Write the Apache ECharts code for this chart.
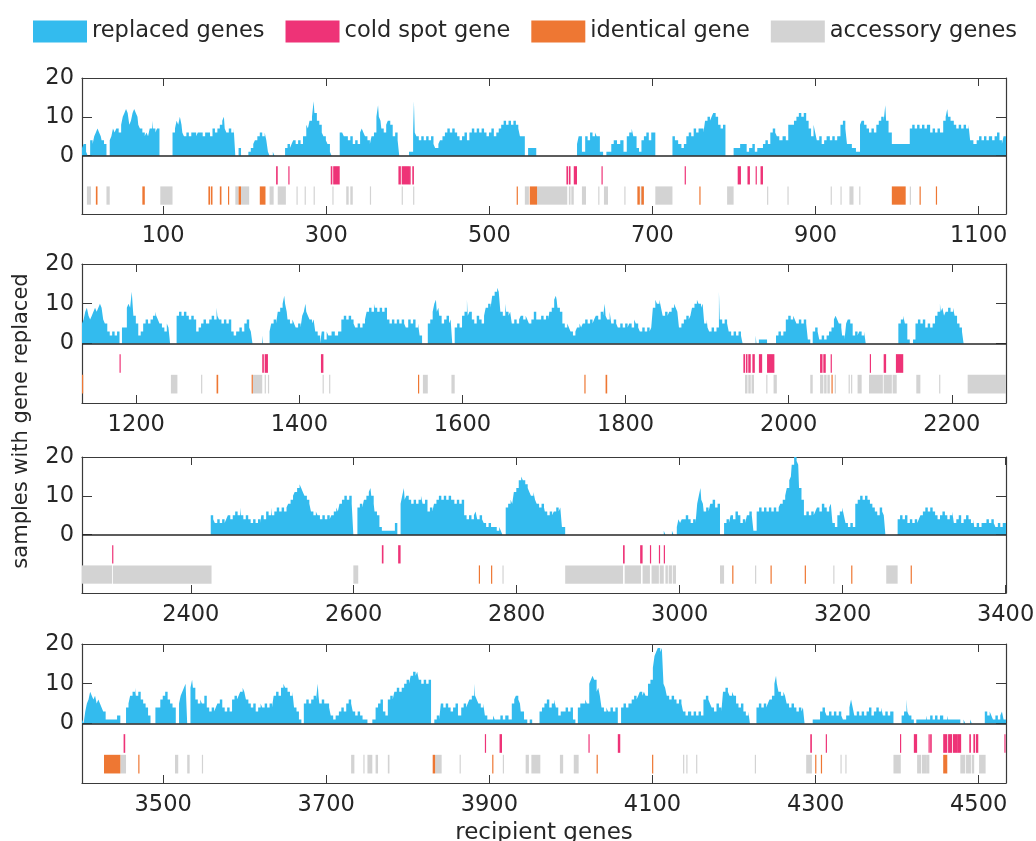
<!DOCTYPE html>
<html>
<head>
<meta charset="utf-8">
<title>Gene replacement along the recipient genome</title>
<script src="https://cdn.jsdelivr.net/npm/echarts@6/dist/echarts.min.js"></script>
<style>
  html, body { margin: 0; padding: 0; background: #ffffff; }
  #chart { width: 1036px; height: 841px; }
</style>
</head>
<body>
<div id="chart"></div>
<script>
// Replaced-gene counts as [first gene of run, samples with gene replaced]; each value holds until the next entry.
const replaced1 = [[1,2],[3,3],[6,1],[8,0],[11,4],[14,3],[16,5],[18,6],[20,7],[22,6],[24,5],[25,4],[28,3],[31,0],[35,4],[37,5],[39,7],[41,6],[43,7],[46,6],[49,8],[51,10],[53,11],[55,12],[57,11],[59,8],[61,9],[63,11],[65,12],[67,11],[69,10],[70,8],[72,7],[75,6],[78,5],[80,6],[82,5],[84,7],[87,9],[88,7],[91,6],[93,7],[96,0],[112,6],[115,7],[117,9],[119,8],[121,10],[123,8],[124,6],[126,5],[129,6],[132,5],[135,6],[138,6],[141,5],[143,6],[146,6],[149,5],[152,6],[155,6],[158,5],[161,7],[164,6],[167,7],[170,8],[173,9],[175,10],[176,7],[178,6],[181,7],[184,6],[187,7],[189,0],[193,2],[196,0],[205,1],[208,2],[211,3],[213,4],[216,5],[219,6],[222,5],[225,6],[227,4],[229,1],[231,0],[235,1],[237,0],[250,2],[253,3],[256,2],[258,3],[260,4],[263,3],[266,4],[269,3],[272,5],[276,8],[278,7],[280,9],[283,10],[285,14],[286,11],[289,9],[292,8],[295,6],[297,5],[300,4],[302,3],[305,1],[307,0],[317,6],[320,6],[322,5],[324,5],[327,4],[330,5],[333,3],[336,4],[339,3],[342,6],[344,7],[346,6],[348,5],[351,4],[354,3],[356,5],[359,6],[362,10],[364,13],[365,10],[367,9],[368,7],[371,6],[374,8],[376,9],[379,8],[382,5],[385,6],[388,4],[390,0],[402,1],[407,6],[408,14],[409,6],[411,5],[414,4],[417,5],[420,4],[423,5],[426,4],[429,5],[432,3],[434,2],[438,3],[440,4],[443,5],[446,6],[449,7],[452,6],[455,7],[458,6],[461,5],[464,4],[467,5],[470,6],[473,4],[476,6],[479,7],[482,6],[485,7],[488,6],[491,7],[494,6],[497,5],[500,6],[503,7],[506,5],[509,6],[512,7],[515,8],[518,9],[521,8],[524,9],[527,8],[530,9],[533,8],[536,7],[538,5],[544,0],[548,2],[558,0],[608,3],[610,5],[614,1],[618,5],[621,4],[624,6],[627,5],[630,6],[632,5],[636,1],[640,0],[644,1],[650,3],[653,4],[657,3],[661,4],[665,1],[669,5],[672,6],[675,7],[677,5],[681,2],[684,1],[687,4],[690,5],[693,6],[696,4],[699,6],[704,0],[725,5],[728,4],[732,3],[736,2],[739,3],[742,5],[745,6],[748,5],[751,7],[754,6],[757,7],[760,7],[763,6],[765,9],[768,10],[771,9],[773,10],[775,11],[778,10],[781,8],[784,7],[787,8],[790,0],[800,2],[808,3],[816,1],[819,2],[823,3],[826,1],[829,2],[833,2],[836,3],[839,4],[842,3],[845,6],[848,7],[851,6],[853,5],[856,4],[860,5],[864,4],[867,8],[871,8],[874,9],[877,10],[880,11],[883,10],[886,11],[889,9],[892,7],[895,5],[898,8],[900,6],[902,4],[905,5],[908,3],[911,4],[914,5],[918,4],[921,5],[924,4],[927,5],[931,8],[934,9],[937,7],[939,3],[945,2],[950,1],[955,8],[957,9],[960,8],[963,7],[966,6],[969,7],[972,6],[975,8],[978,9],[981,10],[984,9],[986,13],[987,9],[990,6],[994,3],[1016,7],[1019,8],[1022,7],[1025,8],[1028,7],[1031,8],[1034,7],[1037,8],[1041,6],[1044,7],[1047,6],[1050,7],[1053,6],[1057,9],[1060,10],[1062,12],[1063,10],[1066,9],[1070,8],[1073,7],[1076,8],[1079,7],[1082,8],[1085,7],[1088,8],[1090,4],[1094,3],[1098,4],[1101,5],[1104,4],[1107,5],[1110,4],[1113,5],[1117,4],[1120,5],[1123,6],[1126,4],[1129,3],[1131,5]];
const replaced2 = [[1134,5],[1136,6],[1138,8],[1140,9],[1142,7],[1144,6],[1146,7],[1148,8],[1150,9],[1152,8],[1154,9],[1156,10],[1158,9],[1160,6],[1162,5],[1165,3],[1168,2],[1171,3],[1174,2],[1177,3],[1180,0],[1183,4],[1189,9],[1191,10],[1193,9],[1195,13],[1196,10],[1197,7],[1200,5],[1203,2],[1206,3],[1209,5],[1212,6],[1215,5],[1218,6],[1221,7],[1224,8],[1225,7],[1227,6],[1229,5],[1232,4],[1235,3],[1238,5],[1240,4],[1242,0],[1250,7],[1253,8],[1256,7],[1259,8],[1262,7],[1265,6],[1268,7],[1271,6],[1274,3],[1277,4],[1280,5],[1283,6],[1286,5],[1290,6],[1293,7],[1296,6],[1299,9],[1300,7],[1302,6],[1305,5],[1308,6],[1311,5],[1314,6],[1317,3],[1320,2],[1323,3],[1327,4],[1330,3],[1333,5],[1336,6],[1339,4],[1341,3],[1343,0],[1355,2],[1356,0],[1364,3],[1366,5],[1369,6],[1372,5],[1374,8],[1377,9],[1380,10],[1382,12],[1383,10],[1385,8],[1386,6],[1389,5],[1392,6],[1394,5],[1396,4],[1399,5],[1402,4],[1404,7],[1406,8],[1408,10],[1409,8],[1411,7],[1413,6],[1416,5],[1418,6],[1420,3],[1423,2],[1426,0],[1428,3],[1431,1],[1434,3],[1436,2],[1440,3],[1444,2],[1448,3],[1452,6],[1455,7],[1458,6],[1461,7],[1464,6],[1467,5],[1469,4],[1472,5],[1475,4],[1478,5],[1481,6],[1483,8],[1486,9],[1489,8],[1492,10],[1493,9],[1496,8],[1499,9],[1502,8],[1505,9],[1508,6],[1511,5],[1514,6],[1517,5],[1520,6],[1523,5],[1526,6],[1529,5],[1531,4],[1534,6],[1537,5],[1540,6],[1543,4],[1546,5],[1548,2],[1551,0],[1558,5],[1561,6],[1564,8],[1566,10],[1568,11],[1569,8],[1571,9],[1572,7],[1575,5],[1578,6],[1581,7],[1584,5],[1586,6],[1588,0],[1591,4],[1594,5],[1597,4],[1600,7],[1603,8],[1606,11],[1607,7],[1609,8],[1612,6],[1615,5],[1618,7],[1621,6],[1624,5],[1627,7],[1629,9],[1632,10],[1635,9],[1637,12],[1640,13],[1643,14],[1645,13],[1647,8],[1650,7],[1653,10],[1654,8],[1657,7],[1659,8],[1661,5],[1664,6],[1667,5],[1670,6],[1672,7],[1675,6],[1678,7],[1680,6],[1682,5],[1685,6],[1688,8],[1691,6],[1694,6],[1697,7],[1700,6],[1703,7],[1706,6],[1707,8],[1710,9],[1713,11],[1715,12],[1716,11],[1717,9],[1720,8],[1723,5],[1726,4],[1729,5],[1731,4],[1733,3],[1736,2],[1739,3],[1741,4],[1744,5],[1746,4],[1748,5],[1751,6],[1754,5],[1757,6],[1760,5],[1762,6],[1764,7],[1767,6],[1770,8],[1773,7],[1775,10],[1776,7],[1778,6],[1781,8],[1783,5],[1786,6],[1789,5],[1791,4],[1794,5],[1797,4],[1800,5],[1803,4],[1805,5],[1808,4],[1811,6],[1813,5],[1816,4],[1818,3],[1821,4],[1824,3],[1827,4],[1830,3],[1832,4],[1834,9],[1837,11],[1839,10],[1842,11],[1844,9],[1846,7],[1849,8],[1852,7],[1854,8],[1857,9],[1860,10],[1862,9],[1864,8],[1866,4],[1869,5],[1872,6],[1875,7],[1878,6],[1880,7],[1882,9],[1885,10],[1888,11],[1890,10],[1893,9],[1895,10],[1897,5],[1900,6],[1901,4],[1903,3],[1906,4],[1909,3],[1912,4],[1915,13],[1916,6],[1919,5],[1922,6],[1925,5],[1927,3],[1930,2],[1933,3],[1936,2],[1939,3],[1942,2],[1944,0],[1960,2],[1961,0],[1964,1],[1974,0],[1985,2],[1988,3],[1991,2],[1994,3],[1997,6],[2000,7],[2003,6],[2006,7],[2008,6],[2010,5],[2013,6],[2016,5],[2019,6],[2022,5],[2024,1],[2027,0],[2030,3],[2033,4],[2036,3],[2038,1],[2041,2],[2044,1],[2047,2],[2050,3],[2053,4],[2056,6],[2058,7],[2060,6],[2062,5],[2065,4],[2066,2],[2069,1],[2071,5],[2073,6],[2076,5],[2079,2],[2082,3],[2085,2],[2087,3],[2090,2],[2093,3],[2095,0],[2135,5],[2138,6],[2141,7],[2143,5],[2146,1],[2149,0],[2153,1],[2156,5],[2159,6],[2162,5],[2165,6],[2168,4],[2171,5],[2174,4],[2177,5],[2180,7],[2183,8],[2186,10],[2187,8],[2189,9],[2191,7],[2193,8],[2196,9],[2199,8],[2202,9],[2204,7],[2207,5],[2210,4],[2213,3],[2215,0]];
const replaced3 = [[2267,0],[2425,5],[2428,4],[2430,3],[2433,4],[2436,3],[2439,4],[2442,3],[2444,4],[2446,5],[2449,4],[2452,5],[2455,6],[2458,5],[2461,7],[2462,5],[2465,4],[2468,5],[2471,4],[2474,3],[2477,4],[2480,3],[2483,4],[2486,3],[2487,5],[2490,4],[2493,6],[2496,5],[2499,7],[2500,5],[2503,6],[2506,7],[2509,6],[2512,7],[2515,6],[2518,7],[2520,8],[2523,9],[2526,10],[2528,11],[2531,12],[2534,13],[2536,12],[2538,11],[2540,10],[2543,9],[2546,8],[2548,6],[2551,5],[2554,6],[2556,5],[2559,4],[2562,5],[2565,4],[2568,5],[2571,4],[2573,5],[2576,6],[2579,7],[2581,6],[2583,8],[2586,9],[2589,10],[2592,9],[2595,10],[2598,8],[2600,0],[2605,7],[2608,8],[2611,7],[2613,9],[2616,10],[2619,11],[2621,12],[2622,10],[2625,8],[2626,6],[2629,5],[2632,2],[2635,1],[2651,3],[2654,0],[2658,8],[2660,10],[2662,12],[2663,9],[2665,10],[2668,9],[2671,8],[2674,9],[2677,8],[2680,9],[2683,10],[2685,8],[2688,9],[2691,6],[2694,7],[2697,6],[2699,8],[2702,9],[2705,10],[2708,9],[2711,10],[2714,9],[2717,10],[2720,9],[2724,8],[2727,9],[2730,8],[2733,9],[2736,5],[2739,4],[2742,5],[2745,4],[2748,5],[2750,6],[2752,4],[2755,5],[2758,4],[2760,3],[2763,2],[2766,3],[2769,2],[2776,1],[2779,2],[2781,1],[2783,0],[2787,7],[2790,8],[2793,9],[2795,8],[2797,11],[2800,12],[2803,14],[2806,15],[2808,14],[2811,13],[2814,12],[2816,11],[2818,10],[2821,11],[2823,9],[2825,8],[2828,7],[2831,8],[2834,7],[2835,6],[2838,5],[2841,6],[2844,5],[2846,6],[2849,7],[2852,6],[2854,7],[2856,2],[2860,0],[2981,1],[2983,0],[2991,1],[2993,0],[2997,2],[2999,4],[3001,3],[3003,4],[3008,5],[3011,4],[3014,3],[3017,4],[3020,3],[3022,8],[3024,10],[3026,12],[3027,9],[3029,8],[3030,6],[3033,7],[3036,6],[3038,8],[3041,9],[3044,7],[3047,8],[3050,0],[3055,3],[3058,4],[3061,3],[3063,5],[3066,4],[3069,6],[3072,5],[3075,3],[3078,4],[3081,3],[3083,5],[3086,6],[3089,5],[3091,1],[3095,6],[3098,7],[3101,6],[3104,7],[3107,6],[3110,7],[3113,6],[3116,7],[3119,6],[3122,7],[3124,8],[3127,9],[3130,10],[3132,12],[3135,14],[3137,15],[3138,18],[3141,20],[3144,19],[3146,18],[3147,12],[3150,9],[3153,5],[3156,6],[3159,5],[3162,6],[3165,5],[3167,6],[3169,7],[3172,6],[3175,8],[3178,7],[3181,6],[3184,7],[3186,8],[3188,3],[3191,2],[3194,5],[3197,6],[3200,7],[3202,5],[3204,3],[3207,2],[3210,3],[3213,2],[3216,8],[3219,9],[3222,10],[3225,9],[3228,10],[3231,9],[3234,8],[3237,7],[3240,6],[3243,5],[3246,7],[3249,6],[3251,5],[3253,0],[3268,4],[3271,5],[3274,4],[3277,5],[3280,3],[3283,4],[3286,3],[3289,4],[3292,3],[3294,4],[3296,5],[3299,6],[3302,7],[3305,6],[3308,7],[3311,6],[3314,5],[3317,4],[3320,5],[3323,6],[3326,5],[3329,4],[3332,5],[3335,6],[3337,3],[3340,4],[3343,5],[3346,3],[3349,4],[3352,5],[3355,4],[3358,3],[3361,4],[3362,2],[3365,3],[3368,2],[3371,3],[3377,4],[3380,3],[3383,4],[3386,3],[3388,2],[3391,3],[3394,2],[3397,3]];
const replaced4 = [[3401,1],[3403,0],[3405,3],[3407,5],[3409,6],[3411,8],[3413,7],[3415,6],[3417,7],[3419,5],[3421,6],[3423,5],[3425,4],[3427,3],[3430,1],[3444,2],[3448,0],[3455,4],[3458,5],[3460,7],[3463,8],[3466,9],[3467,7],[3470,8],[3473,6],[3476,5],[3479,4],[3482,2],[3485,0],[3491,4],[3497,6],[3500,7],[3503,8],[3506,6],[3509,5],[3512,4],[3516,0],[3520,5],[3522,7],[3524,8],[3526,9],[3528,10],[3530,0],[3534,9],[3536,11],[3537,9],[3540,6],[3543,5],[3546,6],[3548,5],[3551,7],[3554,4],[3557,3],[3560,4],[3563,3],[3565,4],[3567,5],[3570,6],[3573,4],[3576,3],[3579,4],[3582,3],[3585,6],[3588,7],[3591,6],[3593,7],[3595,8],[3598,9],[3600,8],[3602,6],[3605,5],[3608,4],[3611,5],[3614,3],[3617,4],[3620,5],[3622,4],[3625,5],[3628,4],[3631,5],[3634,4],[3636,7],[3639,8],[3642,7],[3645,9],[3648,10],[3650,9],[3653,8],[3656,7],[3659,8],[3661,4],[3664,3],[3667,1],[3670,0],[3673,5],[3676,6],[3679,5],[3682,6],[3685,7],[3688,6],[3690,10],[3691,7],[3692,5],[3695,6],[3698,5],[3704,4],[3706,2],[3709,1],[3712,2],[3716,3],[3719,4],[3722,3],[3725,5],[3728,6],[3731,5],[3733,3],[3736,2],[3739,3],[3742,2],[3745,1],[3751,0],[3757,1],[3761,4],[3764,5],[3767,6],[3770,3],[3773,2],[3776,6],[3779,7],[3782,6],[3784,8],[3787,9],[3790,8],[3793,9],[3796,10],[3799,11],[3802,10],[3804,12],[3807,13],[3810,12],[3812,13],[3814,11],[3817,10],[3820,11],[3823,10],[3826,11],[3829,0],[3833,1],[3836,2],[3839,1],[3841,5],[3844,4],[3847,5],[3850,4],[3853,3],[3856,4],[3859,5],[3862,2],[3866,4],[3869,5],[3872,4],[3874,5],[3876,6],[3879,7],[3882,10],[3883,7],[3885,6],[3887,5],[3890,4],[3893,5],[3895,2],[3898,1],[3905,2],[3907,1],[3914,2],[3917,1],[3920,2],[3924,1],[3928,5],[3931,6],[3933,7],[3936,6],[3938,5],[3939,3],[3943,1],[3947,0],[3950,1],[3953,0],[3962,3],[3965,4],[3968,5],[3971,6],[3974,4],[3977,5],[3980,6],[3982,4],[3985,2],[3988,3],[3994,4],[3997,3],[4000,4],[4003,1],[4006,0],[4009,4],[4012,5],[4018,6],[4020,5],[4023,10],[4025,11],[4027,12],[4029,11],[4032,8],[4034,9],[4036,7],[4038,4],[4041,3],[4044,4],[4046,3],[4049,4],[4052,3],[4055,4],[4058,0],[4062,4],[4065,5],[4068,4],[4071,5],[4075,6],[4078,7],[4081,6],[4083,7],[4085,8],[4088,7],[4090,8],[4092,7],[4095,10],[4098,11],[4101,14],[4103,17],[4105,18],[4107,19],[4110,18],[4112,19],[4114,10],[4116,9],[4118,7],[4121,6],[4124,7],[4127,6],[4130,5],[4133,6],[4136,5],[4138,3],[4141,2],[4144,3],[4148,2],[4151,3],[4154,2],[4157,3],[4160,2],[4163,6],[4166,7],[4169,6],[4171,5],[4173,4],[4176,3],[4179,5],[4182,4],[4185,3],[4187,8],[4190,9],[4193,8],[4195,7],[4198,8],[4200,7],[4203,5],[4206,4],[4209,5],[4212,3],[4215,2],[4218,3],[4220,0],[4228,4],[4231,5],[4234,4],[4237,5],[4240,4],[4242,5],[4244,6],[4247,7],[4250,10],[4252,12],[4253,10],[4255,8],[4258,7],[4261,8],[4263,7],[4265,5],[4268,4],[4271,5],[4274,4],[4277,3],[4280,4],[4283,3],[4285,4],[4287,0],[4297,1],[4306,3],[4309,4],[4312,3],[4314,2],[4317,3],[4320,2],[4323,3],[4326,2],[4329,3],[4332,2],[4334,1],[4338,2],[4342,4],[4344,6],[4346,4],[4348,2],[4351,3],[4354,2],[4357,3],[4360,2],[4363,3],[4366,4],[4369,2],[4372,3],[4375,4],[4378,3],[4381,4],[4383,2],[4386,3],[4389,2],[4392,3],[4396,0],[4406,2],[4409,3],[4412,6],[4413,3],[4415,2],[4418,1],[4421,0],[4424,1],[4436,2],[4437,1],[4441,2],[4444,1],[4447,2],[4450,1],[4453,2],[4457,1],[4462,2],[4463,1],[4478,0],[4482,1],[4484,0],[4490,1],[4492,0],[4508,3],[4511,2],[4514,3],[4516,2],[4518,1],[4521,2],[4524,1],[4527,2],[4529,3],[4531,1]];

// Gene ranges [first, last] marked in the strips under each panel.
const coldSpotGenes = [[239,240],[254,254],[306,307],[309,316],[389,391],[393,401],[402,403],[406,407],[595,596],[598,599],[604,607],[638,638],[740,740],[805,808],[817,819],[827,827],[833,835],
  [1180,1180],[1355,1356],[1358,1361],[1427,1429],[1945,1946],[1948,1949],[1951,1953],[1956,1958],[1964,1967],[1974,1982],[2039,2041],[2043,2045],[2052,2052],[2100,2100],[2117,2119],[2132,2140],
  [2304,2304],[2635,2636],[2655,2657],[2931,2932],[2952,2954],[2964,2964],[2975,2975],[2981,2981],
  [3452,3453],[3895,3895],[3913,3915],[4022,4022],[4058,4060],[4294,4295],[4313,4313],[4404,4404],[4421,4424],[4439,4439],[4441,4442],[4457,4461],[4463,4467],[4469,4474],[4475,4478],[4489,4490],[4494,4495],[4497,4499],[4532,4532]];
const accessoryGenes = [[7,11],[31,34],[97,111],[189,192],[196,205],[231,235],[241,250],[264,264],[274,274],[285,285],[308,308],[325,327],[330,332],[354,354],[393,393],[407,407],[544,548],[559,595],[598,599],[601,603],[614,618],[634,634],[641,645],[666,666],[686,687],[704,724],[792,799],[841,841],[866,866],[919,919],[931,931],[942,946],[954,954],[1016,1016],
  [1243,1250],[1280,1280],[1343,1354],[1358,1358],[1362,1362],[1429,1429],[1437,1437],[1552,1557],[1587,1590],[1947,1949],[1951,1953],[1955,1957],[1973,1973],[1982,1985],[2027,2029],[2039,2042],[2044,2046],[2048,2050],[2057,2057],[2074,2074],[2077,2077],[2085,2089],[2099,2115],[2117,2126],[2128,2132],[2157,2161],[2185,2185],[2220,2266],
  [2267,2303],[2305,2425],[2600,2605],[2783,2783],[2860,2930],[2933,2952],[2955,2963],[2966,2974],[2976,2980],[2983,2985],[2987,2990],[2992,2995],[3050,3054],[3093,3093],[3189,3189],[3254,3267],
  [3448,3454],[3515,3518],[3530,3532],[3548,3548],[3731,3734],[3746,3746],[3751,3756],[3761,3763],[3776,3777],[3834,3841],[3864,3864],[3917,3917],[3945,3948],[3952,3962],[3987,3990],[4004,4009],[4138,4138],[4142,4142],[4154,4154],[4226,4226],[4289,4295],[4331,4331],[4337,4337],[4396,4404],[4425,4429],[4431,4436],[4437,4439],[4478,4483],[4485,4490],[4492,4494],[4501,4508]];
const identicalGenes = [[18,19],[75,77],[156,157],[159,160],[170,171],[180,180],[193,195],[219,225],[534,534],[550,558],[682,684],[687,689],[758,758],[994,1010],[1028,1028],[1048,1048],
  [1134,1134],[1299,1300],[1342,1342],[1546,1546],[1750,1750],[1776,1777],[2053,2053],
  [2754,2754],[2769,2769],[3065,3065],[3112,3112],[3154,3154],[3211,3211],[3284,3284],
  [3428,3447],[3470,3470],[3831,3833],[3904,3904],[4032,4032],[4100,4100],[4300,4300],[4307,4307],[4457,4461]];

// Gene span and tick labels of each row.
const panelSpans = [[0.5, 1133.5], [1133.5, 2266.5], [2266.5, 3400.5], [3400.5, 4533.5]];
const xTickValues = [[100, 300, 500, 700, 900, 1100], [1200, 1400, 1600, 1800, 2000, 2200], [2400, 2600, 2800, 3000, 3200, 3400], [3500, 3700, 3900, 4100, 4300, 4500]];
const yTickValues = [0, 10, 20];
const replacedByPanel = [replaced1, replaced2, replaced3, replaced4];

const FONT = '"DejaVu Sans", Verdana, sans-serif';
const INK = '#262626';
const FRAME = '#3a3a3a';
const COLOR = { replaced: '#33BBEE', cold: '#EE3377', identical: '#EE7733', accessory: '#D3D3D3' };
const GRID_TOP = [78, 264, 457, 644];
const GRID_HEIGHT = [136, 139, 136, 139];
const ROW_COLD = [-2.7, -7.4];   // strip band (in count units) for cold spot genes
const ROW_GENE = [-7.9, -12.6];  // strip band for accessory / identical genes

function stepData(pairs, end) {
  const pts = pairs.map(p => [p[0] - 0.5, p[1]]);
  pts.push([end, pairs[pairs.length - 1][1]]);
  return pts;
}
function within(ranges, span) {
  return ranges.filter(r => r[1] + 0.5 > span[0] && r[0] - 0.5 < span[1]);
}
function stripRenderer(band) {
  return function (params, api) {
    const a = api.coord([api.value(0) - 0.5, band[0]]);
    const b = api.coord([api.value(1) + 0.5, band[1]]);
    return {
      type: 'rect',
      shape: { x: a[0], y: a[1], width: Math.max(b[0] - a[0], 1.2), height: b[1] - a[1] },
      style: { fill: api.visual('color') }
    };
  };
}
const plainNumber = v => String(Math.round(v));

const grids = [], xAxes = [], yAxes = [], series = [];
panelSpans.forEach((span, i) => {
  grids.push({ left: 82, right: 30, top: GRID_TOP[i], height: GRID_HEIGHT[i], containLabel: false, outerBoundsMode: 'none' });
  const tickCommon = { show: true, inside: true, length: 8, lineStyle: { color: FRAME, width: 1 } };
  xAxes.push({
    type: 'value', gridIndex: i, min: span[0], max: span[1], position: 'bottom',
    axisLine: { show: true, onZero: false, lineStyle: { color: FRAME, width: 1.2 } },
    axisTick: Object.assign({ customValues: xTickValues[i] }, tickCommon),
    axisLabel: { customValues: xTickValues[i], formatter: plainNumber, color: INK, fontSize: 22.5, fontFamily: FONT, margin: 11 },
    splitLine: { show: false },
    name: i === 3 ? 'recipient genes' : '', nameLocation: 'middle', nameGap: 39,
    nameTextStyle: { color: INK, fontSize: 23, fontFamily: FONT }
  });
  xAxes.push({
    type: 'value', gridIndex: i, min: span[0], max: span[1], position: 'top',
    axisLine: { show: true, onZero: false, lineStyle: { color: FRAME, width: 1.2 } },
    axisTick: Object.assign({ customValues: xTickValues[i] }, tickCommon),
    axisLabel: { show: false }, splitLine: { show: false }
  });
  yAxes.push({
    type: 'value', gridIndex: i, min: -15, max: 20, position: 'left',
    axisLine: { show: true, onZero: false, lineStyle: { color: FRAME, width: 1.2 } },
    axisTick: { show: true, inside: true, length: 10, customValues: yTickValues, lineStyle: { color: FRAME, width: 1 } },
    axisLabel: { customValues: yTickValues, formatter: plainNumber, color: INK, fontSize: 22.5, fontFamily: FONT, margin: 8 },
    splitLine: { show: false }
  });
  yAxes.push({
    type: 'value', gridIndex: i, min: -15, max: 20, position: 'right',
    axisLine: { show: true, onZero: false, lineStyle: { color: FRAME, width: 1.2 } },
    axisTick: { show: true, inside: true, length: 10, customValues: yTickValues, lineStyle: { color: FRAME, width: 1 } },
    axisLabel: { show: false }, splitLine: { show: false }
  });

  series.push({
    name: 'replaced genes', type: 'line', xAxisIndex: 2 * i, yAxisIndex: 2 * i,
    data: stepData(replacedByPanel[i], span[1]), step: 'end', showSymbol: false, symbol: 'none',
    color: COLOR.replaced, lineStyle: { opacity: 0, width: 0 },
    areaStyle: { color: COLOR.replaced, opacity: 1, origin: 'auto' },
    clip: true, silent: true, z: 2,
    markLine: {
      silent: true, symbol: 'none', animation: false, label: { show: false },
      lineStyle: { color: INK, width: 1.5, type: 'solid' }, data: [{ yAxis: 0 }]
    }
  });
  series.push({
    name: 'accessory genes', type: 'custom', xAxisIndex: 2 * i, yAxisIndex: 2 * i,
    data: within(accessoryGenes, span), encode: { x: [0, 1] }, color: COLOR.accessory,
    renderItem: stripRenderer(ROW_GENE), clip: true, silent: true, z: 3
  });
  series.push({
    name: 'identical gene', type: 'custom', xAxisIndex: 2 * i, yAxisIndex: 2 * i,
    data: within(identicalGenes, span), encode: { x: [0, 1] }, color: COLOR.identical,
    renderItem: stripRenderer(ROW_GENE), clip: true, silent: true, z: 4
  });
  series.push({
    name: 'cold spot gene', type: 'custom', xAxisIndex: 2 * i, yAxisIndex: 2 * i,
    data: within(coldSpotGenes, span), encode: { x: [0, 1] }, color: COLOR.cold,
    renderItem: stripRenderer(ROW_COLD), clip: true, silent: true, z: 4
  });
});

const chart = echarts.init(document.getElementById('chart'), null, { renderer: 'canvas' });
chart.setOption({
  animation: false,
  backgroundColor: '#ffffff',
  textStyle: { fontFamily: FONT },
  legend: {
    top: 15, left: 28, icon: 'rect', itemWidth: 54, itemHeight: 22, itemGap: 21,
    textStyle: { color: INK, fontSize: 22.5, fontFamily: FONT },
    selectedMode: false,
    data: [
      { name: 'replaced genes', itemStyle: { color: COLOR.replaced } },
      { name: 'cold spot gene', itemStyle: { color: COLOR.cold } },
      { name: 'identical gene', itemStyle: { color: COLOR.identical } },
      { name: 'accessory genes', itemStyle: { color: COLOR.accessory } }
    ]
  },
  grid: grids, xAxis: xAxes, yAxis: yAxes, series: series,
  graphic: [{
    type: 'text', x: 22, y: 421, rotation: Math.PI / 2, silent: true,
    style: { text: 'samples with gene replaced', fill: INK, fontSize: 21, fontFamily: FONT, align: 'center', verticalAlign: 'middle' }
  }]
});
</script>
</body>
</html>
